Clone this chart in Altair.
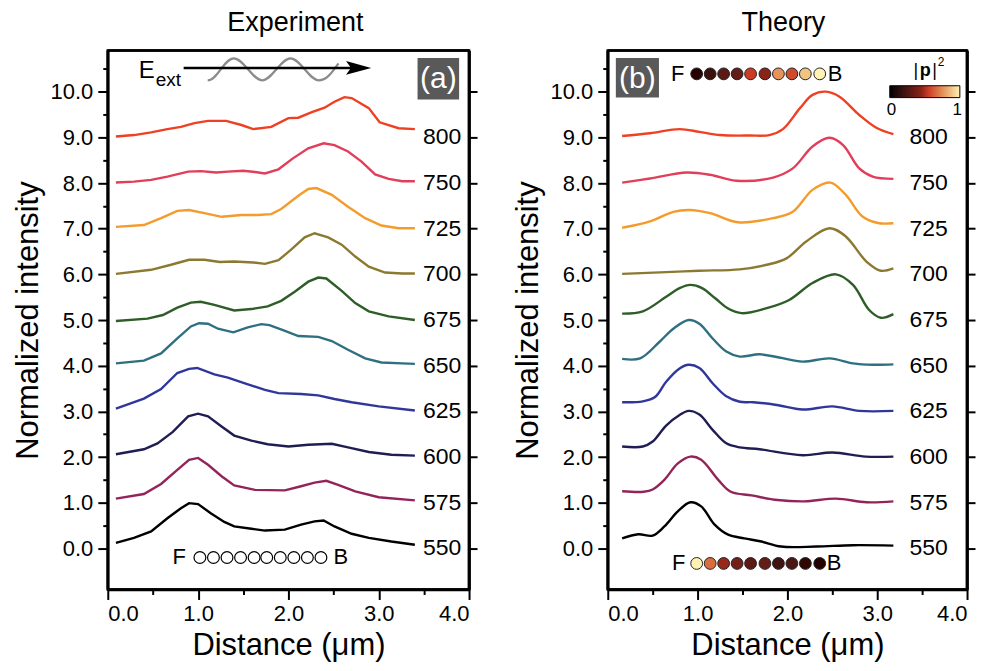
import altair as alt
import pandas as pd

FONT = "Liberation Sans"

# ---------------- data ----------------
WAVELENGTHS = [550, 575, 600, 625, 650, 675, 700, 725, 750, 800]
LINE_COLORS = ["#000000", "#93245a", "#1f1d52", "#30379a", "#2e6f80",
               "#2e5d28", "#8c7931", "#f49b2c", "#e23e5a", "#ee4022"]
OFFSETS = [0, 1, 2, 3, 4, 5, 6, 7, 8, 9]

# Experiment (normalized intensity, before vertical offset)
EXP_550_X = [0.09, 0.29, 0.48, 0.66, 0.81, 0.90, 1.00, 1.14, 1.29, 1.40, 1.59, 1.74, 1.96, 2.14, 2.29, 2.39, 2.51, 2.70, 2.89, 3.14, 3.40]
EXP_550_Y = [0.12, 0.23, 0.37, 0.66, 0.88, 0.99, 0.97, 0.77, 0.58, 0.48, 0.43, 0.39, 0.41, 0.52, 0.59, 0.61, 0.48, 0.32, 0.23, 0.15, 0.08]
EXP_575_X = [0.09, 0.40, 0.59, 0.77, 0.90, 1.00, 1.11, 1.26, 1.40, 1.63, 1.96, 2.14, 2.29, 2.42, 2.55, 2.74, 3.00, 3.40]
EXP_575_Y = [0.09, 0.19, 0.41, 0.72, 0.94, 0.98, 0.83, 0.58, 0.38, 0.28, 0.27, 0.36, 0.44, 0.48, 0.39, 0.25, 0.12, 0.05]
EXP_600_X = [0.09, 0.40, 0.55, 0.72, 0.89, 1.00, 1.11, 1.26, 1.40, 1.59, 1.77, 2.00, 2.22, 2.48, 2.66, 2.89, 3.14, 3.40]
EXP_600_Y = [0.06, 0.17, 0.30, 0.55, 0.89, 0.95, 0.89, 0.67, 0.47, 0.36, 0.28, 0.23, 0.27, 0.29, 0.21, 0.11, 0.05, 0.03]
EXP_625_X = [0.09, 0.40, 0.59, 0.77, 0.90, 0.99, 1.18, 1.33, 1.51, 1.74, 1.89, 2.14, 2.33, 2.51, 2.70, 3.00, 3.40]
EXP_625_Y = [0.06, 0.28, 0.49, 0.84, 0.93, 0.95, 0.81, 0.74, 0.62, 0.47, 0.40, 0.38, 0.35, 0.27, 0.20, 0.11, 0.02]
EXP_650_X = [0.09, 0.40, 0.59, 0.77, 0.92, 1.01, 1.11, 1.22, 1.39, 1.55, 1.70, 1.79, 1.94, 2.11, 2.33, 2.48, 2.66, 2.85, 3.03, 3.26, 3.40]
EXP_650_Y = [0.05, 0.11, 0.27, 0.60, 0.86, 0.93, 0.92, 0.81, 0.73, 0.84, 0.91, 0.89, 0.78, 0.65, 0.63, 0.54, 0.35, 0.16, 0.07, 0.05, 0.04]
EXP_675_X = [0.09, 0.44, 0.61, 0.77, 0.92, 1.03, 1.18, 1.40, 1.59, 1.77, 1.92, 2.07, 2.22, 2.33, 2.42, 2.59, 2.74, 2.89, 3.11, 3.40]
EXP_675_Y = [-0.02, 0.03, 0.11, 0.27, 0.38, 0.40, 0.33, 0.21, 0.24, 0.30, 0.42, 0.62, 0.84, 0.93, 0.91, 0.64, 0.37, 0.19, 0.08, 0.00]
EXP_700_X = [0.09, 0.48, 0.70, 0.90, 1.07, 1.24, 1.40, 1.61, 1.74, 1.89, 2.03, 2.18, 2.29, 2.44, 2.59, 2.74, 2.89, 3.07, 3.26, 3.40]
EXP_700_Y = [0.01, 0.10, 0.21, 0.32, 0.32, 0.27, 0.28, 0.26, 0.23, 0.31, 0.54, 0.81, 0.90, 0.81, 0.65, 0.39, 0.17, 0.04, 0.02, 0.02]
EXP_725_X = [0.09, 0.40, 0.59, 0.77, 0.90, 1.07, 1.26, 1.48, 1.66, 1.81, 1.92, 2.11, 2.22, 2.31, 2.48, 2.66, 2.85, 3.03, 3.22, 3.40]
EXP_725_Y = [0.04, 0.08, 0.23, 0.39, 0.41, 0.34, 0.26, 0.30, 0.30, 0.32, 0.43, 0.72, 0.87, 0.89, 0.74, 0.48, 0.23, 0.07, 0.01, 0.01]
EXP_750_X = [0.09, 0.29, 0.48, 0.66, 0.89, 1.03, 1.20, 1.33, 1.50, 1.63, 1.74, 1.89, 2.05, 2.22, 2.39, 2.51, 2.66, 2.81, 2.96, 3.11, 3.26, 3.40]
EXP_750_Y = [0.01, 0.03, 0.07, 0.14, 0.25, 0.26, 0.23, 0.25, 0.27, 0.24, 0.21, 0.30, 0.54, 0.76, 0.87, 0.83, 0.69, 0.47, 0.19, 0.09, 0.04, 0.04]
EXP_800_X = [0.09, 0.29, 0.48, 0.66, 0.81, 0.96, 1.11, 1.31, 1.48, 1.61, 1.81, 2.00, 2.11, 2.26, 2.40, 2.51, 2.62, 2.70, 2.89, 3.01, 3.22, 3.40]
EXP_800_Y = [0.02, 0.05, 0.11, 0.18, 0.23, 0.31, 0.36, 0.36, 0.27, 0.18, 0.23, 0.42, 0.43, 0.55, 0.65, 0.78, 0.88, 0.86, 0.64, 0.33, 0.20, 0.18]

# Theory (normalized intensity, before vertical offset)
TH_550_X = [0.16, 0.34, 0.50, 0.63, 0.78, 0.92, 1.04, 1.19, 1.34, 1.52, 1.71, 1.93, 2.32, 2.73, 3.18]
TH_550_Y = [0.22, 0.31, 0.28, 0.48, 0.81, 1.01, 0.92, 0.52, 0.30, 0.22, 0.15, 0.04, 0.04, 0.07, 0.06]
TH_575_X = [0.16, 0.40, 0.50, 0.63, 0.78, 0.92, 1.04, 1.23, 1.37, 1.60, 1.89, 2.19, 2.54, 2.88, 3.18]
TH_575_Y = [0.25, 0.24, 0.29, 0.50, 0.86, 1.01, 0.94, 0.50, 0.24, 0.16, 0.06, 0.03, 0.09, 0.01, 0.03]
TH_600_X = [0.16, 0.39, 0.50, 0.65, 0.80, 0.90, 1.02, 1.17, 1.32, 1.47, 1.69, 2.17, 2.50, 2.87, 3.18]
TH_600_Y = [0.23, 0.23, 0.34, 0.69, 0.92, 1.01, 0.93, 0.59, 0.30, 0.21, 0.17, 0.04, 0.10, 0.01, 0.01]
TH_625_X = [0.16, 0.39, 0.53, 0.65, 0.80, 0.90, 1.02, 1.17, 1.32, 1.47, 1.62, 1.88, 2.17, 2.50, 2.80, 3.18]
TH_625_Y = [0.20, 0.22, 0.32, 0.65, 0.94, 1.02, 0.95, 0.61, 0.33, 0.21, 0.20, 0.14, 0.04, 0.11, 0.01, 0.01]
TH_650_X = [0.16, 0.36, 0.58, 0.73, 0.90, 1.02, 1.17, 1.32, 1.47, 1.69, 1.91, 2.17, 2.47, 2.73, 2.95, 3.18]
TH_650_Y = [0.15, 0.16, 0.53, 0.81, 1.00, 0.92, 0.59, 0.31, 0.20, 0.25, 0.18, 0.09, 0.16, 0.05, 0.02, 0.03]
TH_675_X = [0.16, 0.39, 0.65, 0.80, 0.92, 1.05, 1.20, 1.35, 1.49, 1.77, 2.02, 2.28, 2.54, 2.73, 2.91, 3.04, 3.18]
TH_675_Y = [0.14, 0.19, 0.51, 0.70, 0.77, 0.70, 0.47, 0.24, 0.15, 0.26, 0.44, 0.81, 1.00, 0.77, 0.22, 0.05, 0.13]
TH_700_X = [0.16, 0.65, 1.02, 1.47, 1.77, 1.99, 2.21, 2.47, 2.65, 2.88, 3.04, 3.18]
TH_700_Y = [0.01, 0.05, 0.08, 0.11, 0.21, 0.35, 0.72, 1.01, 0.83, 0.28, 0.08, 0.13]
TH_725_X = [0.16, 0.47, 0.73, 0.91, 1.14, 1.45, 1.84, 2.06, 2.28, 2.48, 2.65, 2.84, 3.02, 3.18]
TH_725_Y = [0.02, 0.16, 0.37, 0.41, 0.34, 0.14, 0.23, 0.37, 0.85, 1.01, 0.74, 0.26, 0.12, 0.12]
TH_750_X = [0.16, 0.47, 0.88, 1.14, 1.43, 1.84, 2.06, 2.28, 2.47, 2.62, 2.80, 2.95, 3.18]
TH_750_Y = [0.01, 0.10, 0.23, 0.18, 0.05, 0.12, 0.32, 0.80, 0.99, 0.83, 0.32, 0.14, 0.09]
TH_800_X = [0.16, 0.47, 0.80, 1.02, 1.25, 1.58, 1.80, 1.95, 2.14, 2.28, 2.43, 2.58, 2.80, 2.99, 3.18]
TH_800_Y = [0.03, 0.09, 0.18, 0.12, 0.05, 0.04, 0.05, 0.18, 0.64, 0.93, 1.00, 0.89, 0.49, 0.21, 0.07]

EXP_SERIES = [(EXP_550_X, EXP_550_Y), (EXP_575_X, EXP_575_Y), (EXP_600_X, EXP_600_Y),
              (EXP_625_X, EXP_625_Y), (EXP_650_X, EXP_650_Y), (EXP_675_X, EXP_675_Y),
              (EXP_700_X, EXP_700_Y), (EXP_725_X, EXP_725_Y), (EXP_750_X, EXP_750_Y),
              (EXP_800_X, EXP_800_Y)]
TH_SERIES = [(TH_550_X, TH_550_Y), (TH_575_X, TH_575_Y), (TH_600_X, TH_600_Y),
             (TH_625_X, TH_625_Y), (TH_650_X, TH_650_Y), (TH_675_X, TH_675_Y),
             (TH_700_X, TH_700_Y), (TH_725_X, TH_725_Y), (TH_750_X, TH_750_Y),
             (TH_800_X, TH_800_Y)]

# particle chain positions and |p|^2 values
EXP_PARTICLES = [1.02, 1.17, 1.32, 1.47, 1.62, 1.76, 1.91, 2.06, 2.21, 2.36]
TH_PARTICLES = [0.99, 1.14, 1.29, 1.44, 1.59, 1.75, 1.90, 2.05, 2.20, 2.36]
P2_TOP = [0.0, 0.18, 0.30, 0.33, 0.55, 0.45, 0.76, 0.58, 0.88, 1.0]
P2_BOTTOM = [1.0, 0.66, 0.47, 0.38, 0.30, 0.33, 0.20, 0.25, 0.12, 0.0]
CMAP_STOPS = [0.0, 0.2, 0.45, 0.55, 0.75, 1.0]
CMAP_COLORS = ["#000000", "#3d1410", "#8a2418", "#cc3b26", "#e38f58", "#fff2b2"]

X_DOMAIN = [0, 4]
Y_DOMAIN = [-0.9, 10.9]
Y_MAJOR = [0, 1, 2, 3, 4, 5, 6, 7, 8, 9, 10]
Y_MINOR = [0.5, 1.5, 2.5, 3.5, 4.5, 5.5, 6.5, 7.5, 8.5, 9.5, 10.5]
X_MAJOR = [0, 1, 2, 3, 4]
X_MINOR = [0.5, 1.5, 2.5, 3.5]

# ---------------- helpers ----------------
XS = alt.Scale(domain=X_DOMAIN, nice=False, zero=False)
YS = alt.Scale(domain=Y_DOMAIN, nice=False, zero=False)
WL_LABELS = [str(w) for w in WAVELENGTHS]
COLOR_SCALE = alt.Scale(domain=WL_LABELS, range=LINE_COLORS)
FRAME_COLOR = "#000000"


def lines_df(series):
    rows = []
    for wl, off, (xs, ys) in zip(WAVELENGTHS, OFFSETS, series):
        for x, y in zip(xs, ys):
            rows.append({"x": x, "y": y + off, "wl": str(wl)})
    return pd.DataFrame(rows)


def ax(**kw):
    base = dict(grid=False, domain=False, tickColor="black", tickWidth=2,
                labelColor="black", titleColor="black", labelFont=FONT, titleFont=FONT)
    base.update(kw)
    return alt.Axis(**base)


def nx(field="x"):
    return alt.X(f"{field}:Q", scale=XS, axis=None)


def ny(field="y"):
    return alt.Y(f"{field}:Q", scale=YS, axis=None)


def text_layer(x, y, s, size, color="black", align="center", baseline="middle", weight="normal"):
    d = pd.DataFrame({"x": [x], "y": [y], "t": [s]})
    return alt.Chart(d).mark_text(font=FONT, fontSize=size, color=color, align=align,
                                  baseline=baseline, fontWeight=weight).encode(
        x=nx(), y=ny(), text="t:N")


def rect_layer(x1, x2, y1, y2, **kw):
    d = pd.DataFrame({"x": [x1], "x2": [x2], "y": [y1], "y2": [y2]})
    return alt.Chart(d).mark_rect(**kw).encode(x=nx(), x2="x2:Q", y=ny(), y2="y2:Q")


def frame_layer():
    # thick box outline along the plot boundary (four edges)
    x0, x1 = X_DOMAIN
    y0, y1 = Y_DOMAIN
    d = pd.DataFrame({"x": [x0, x1, x0, x0], "x2": [x0, x1, x1, x1],
                      "y": [y0, y0, y0, y1], "y2": [y1, y1, y0, y1]})
    return alt.Chart(d).mark_rule(stroke=FRAME_COLOR, strokeWidth=2.6, opacity=1).encode(
        x=nx(), x2="x2:Q", y=ny(), y2="y2:Q")


def panel(series, interp, label_x, title, title_dx):
    df = lines_df(series)
    lines = alt.Chart(df).mark_line(strokeWidth=2.4, interpolate=interp).encode(
        x=alt.X("x:Q", scale=XS, axis=ax(values=X_MAJOR, format=".1f", title="Distance (μm)",
                                         tickSize=10, labelFontSize=22, titleFontSize=31,
                                         titleFontWeight="normal", labelPadding=4, titlePadding=6,
                                         domain=True, domainColor=FRAME_COLOR, domainWidth=2.6)),
        y=alt.Y("y:Q", scale=YS, axis=ax(values=Y_MAJOR, format=".1f", title="Normalized intensity",
                                         tickSize=10, labelFontSize=22, titleFontSize=31,
                                         titleFontWeight="normal", labelPadding=5, titlePadding=6,
                                         domain=True, domainColor=FRAME_COLOR, domainWidth=2.6)),
        color=alt.Color("wl:N", scale=COLOR_SCALE, legend=None),
    )
    minor_y = alt.Chart(df).mark_point(opacity=0).encode(
        x=nx(), y=alt.Y("y:Q", scale=YS, axis=ax(values=Y_MINOR, orient="left", tickSize=5,
                                                  labels=False, title=None)))
    minor_x = alt.Chart(df).mark_point(opacity=0).encode(
        y=ny(), x=alt.X("x:Q", scale=XS, axis=ax(values=X_MINOR, orient="bottom", tickSize=5,
                                                  labels=False, title=None)))
    right = alt.Chart(df).mark_point(opacity=0).encode(
        x=nx(), y=alt.Y("y:Q", scale=YS, axis=ax(values=Y_MAJOR, orient="right", tickSize=8,
                                                  labels=False, title=None, domain=True,
                                                  domainColor=FRAME_COLOR, domainWidth=2.6)))
    lab_df = pd.DataFrame({"x": [label_x] * len(WAVELENGTHS), "y": OFFSETS, "t": WL_LABELS})
    labels = alt.Chart(lab_df).mark_text(font=FONT, fontSize=23, align="left",
                                         baseline="middle", color="black").encode(
        x=nx(), y=ny(), text="t:N")
    return [frame_layer(), lines, minor_y, minor_x, right, labels], alt.TitleParams(
        title, fontSize=27, fontWeight="normal", font=FONT, anchor="middle",
        frame="group", offset=12, dx=title_dx, color="black")


def chain(xs, y, p2=None, open_=False):
    d = pd.DataFrame({"x": xs, "y": [y] * len(xs)})
    if open_:
        return alt.Chart(d).mark_point(shape="circle", filled=True, fill="white", stroke="black",
                                       strokeWidth=1.2, size=140, opacity=1).encode(x=nx(), y=ny())
    d["p"] = p2
    return alt.Chart(d).mark_point(shape="circle", filled=True, stroke="#222222",
                                   strokeWidth=1, size=140, opacity=1).encode(
        x=nx(), y=ny(),
        fill=alt.Fill("p:Q", scale=alt.Scale(domain=CMAP_STOPS, range=CMAP_COLORS), legend=None))


WAVE_PATH = ("M -1 0.168 C -0.85 0.168 -0.75 -0.168 -0.6 -0.168 "
             "C -0.45 -0.168 -0.315 0.168 -0.165 0.168 "
             "C -0.015 0.168 0.117 -0.168 0.267 -0.168 "
             "C 0.417 -0.168 0.55 0.168 0.70 0.168 "
             "C 0.82 0.168 0.9 0.05 1 -0.09")
ARROW_PATH = "M -1 -0.55 L 1 0 L -1 0.55 L -0.6 0 Z"

# ---------------- panel (a) ----------------
layers_a, title_a = panel(EXP_SERIES, "linear", 3.49, "Experiment", 7)
arrow_d = pd.DataFrame({"x": [0.84], "x2": [2.78], "y": [10.52]})
layers_a += [
    alt.Chart(pd.DataFrame({"x": [1.83], "y": [10.49]})).mark_point(
        shape=WAVE_PATH, size=17161, filled=False, stroke="#8c8c8c", strokeWidth=2.2, opacity=1
    ).encode(x=nx(), y=ny()),
    alt.Chart(arrow_d).mark_rule(color="black", strokeWidth=2.5).encode(x=nx(), x2="x2:Q", y=ny()),
    alt.Chart(pd.DataFrame({"x": [2.77], "y": [10.52]})).mark_point(
        shape=ARROW_PATH, size=361, filled=True, fill="black", stroke="black", opacity=1
    ).encode(x=nx(), y=ny()),
    text_layer(0.43, 10.31, "E", 24, baseline="alphabetic"),
    text_layer(0.67, 10.13, "ext", 19, baseline="alphabetic"),
    rect_layer(3.43, 3.89, 9.83, 10.74, fill="#595959"),
    text_layer(3.66, 10.27, "(a)", 30, color="white"),
    chain(EXP_PARTICLES, -0.20, open_=True),
    text_layer(0.79, -0.20, "F", 22),
    text_layer(2.58, -0.20, "B", 22),
]
panel_a = alt.layer(*layers_a).resolve_axis(x="independent", y="independent").properties(
    width=362, height=540, title=title_a)

# ---------------- panel (b) ----------------
layers_b, title_b = panel(TH_SERIES, "catmull-rom", 3.36, "Theory", -4)
grad = alt.LinearGradient(gradient="linear",
                          stops=[alt.GradientStop(color=c, offset=o) for o, c in zip(CMAP_STOPS, CMAP_COLORS)],
                          x1=0, x2=1, y1=0, y2=0)
layers_b += [
    rect_layer(0.09, 0.57, 9.87, 10.74, fill="#595959"),
    text_layer(0.33, 10.28, "(b)", 30, color="white"),
    chain(TH_PARTICLES, 10.39, p2=P2_TOP),
    text_layer(0.78, 10.39, "F", 22),
    text_layer(2.53, 10.39, "B", 22),
    chain(TH_PARTICLES, -0.33, p2=P2_BOTTOM),
    text_layer(0.79, -0.33, "F", 22),
    text_layer(2.52, -0.33, "B", 22),
    rect_layer(3.14, 3.92, 9.87, 10.13, fill=grad, stroke="black", strokeWidth=1),
    text_layer(3.16, 9.59, "0", 17),
    text_layer(3.89, 9.59, "1", 17),
    text_layer(3.43, 10.35, "|", 18, baseline="alphabetic"),
    text_layer(3.535, 10.35, "p", 18, baseline="alphabetic", weight="bold"),
    text_layer(3.64, 10.35, "|", 18, baseline="alphabetic"),
    text_layer(3.71, 10.56, "2", 12, baseline="alphabetic"),
]
panel_b = alt.layer(*layers_b).resolve_axis(x="independent", y="independent").properties(
    width=360, height=540, title=title_b)

chart = alt.hconcat(panel_a, panel_b, spacing=30).properties(
    padding={"left": 10, "top": 7, "right": 5, "bottom": 5}
).configure(font=FONT, background="white",
            view=alt.ViewConfig(stroke="black", strokeWidth=2.5))

chart.save("out.html", embed_options={"renderer": "svg", "actions": False})
